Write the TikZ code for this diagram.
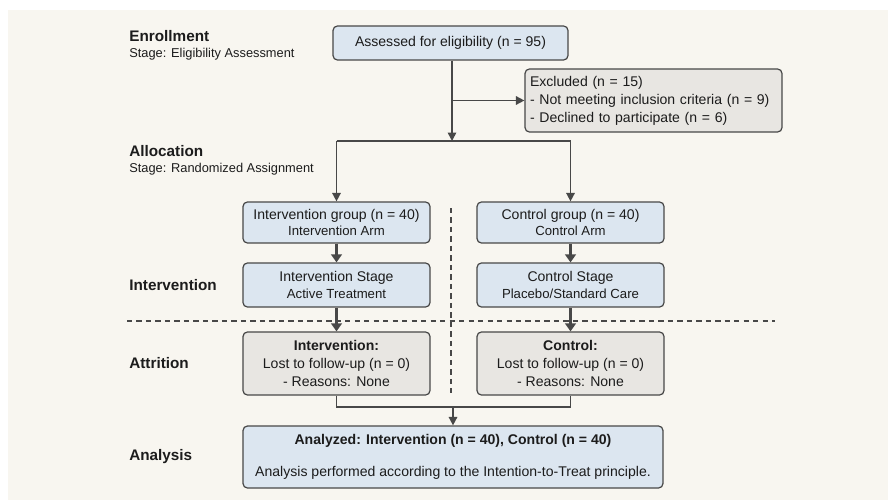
\documentclass[tikz,border=0pt]{standalone}
\usepackage{fontspec}
\setmainfont{Liberation Sans}
\usepackage{xcolor}
\usetikzlibrary{arrows.meta}
\definecolor{bgcream}{RGB}{248,246,240}
\definecolor{boxblue}{RGB}{220,230,240}
\definecolor{boxgray}{RGB}{232,230,226}
\definecolor{edgegray}{RGB}{72,72,72}
\definecolor{inkdark}{RGB}{28,28,28}

\begin{document}
\begin{tikzpicture}[x=0.02cm, y=-0.02cm,
    bluebox/.style={rectangle, rounded corners=2.5pt, draw=edgegray, line width=0.7pt, fill=boxblue, text=inkdark, align=center, inner sep=0pt, font=\fontsize{8}{9.4}\selectfont},
    graybox/.style={bluebox, fill=boxgray},
    phase/.style={anchor=west, align=left, inner sep=0pt, text=inkdark, font=\fontsize{8.7}{10}\selectfont\bfseries},
    flow/.style={draw=edgegray, line width=0.9pt, -{Triangle[length=4.8pt, width=4.8pt]}},
    bigflow/.style={draw=edgegray, line width=1.8pt, -{Triangle[length=4.5pt, width=6pt]}},
    joint/.style={draw=edgegray, line width=0.9pt},
    divider/.style={draw=edgegray, line width=0.6pt, dash pattern=on 3pt off 2.4pt}]

    \fill[white] (0,0) rectangle (888,500);
    \fill[bgcream] (8,10) rectangle (888,500);
    \useasboundingbox (0,0) rectangle (888,500);

    \node (enroll) [phase] at (129,45.5) {Enrollment\\[-1pt]{\mdseries\fontsize{7.3}{9}\selectfont Stage: Eligibility Assessment}};
    \node (alloc) [phase] at (129,160.5) {Allocation\\[-1pt]{\mdseries\fontsize{7.3}{9}\selectfont Stage: Randomized Assignment}};
    \node (treat) [phase] at (129,285) {Intervention};
    \node (attr) [phase] at (129,363) {Attrition};
    \node (analy) [phase] at (129,457) {Analysis};

    \node (assess) [bluebox, minimum width=4.7cm, minimum height=0.68cm] at (450.5,43) {Assessed for eligibility (n = 95)};
    \node (excl) [graybox, minimum width=5.14cm, minimum height=1.26cm, align=left, text width=4.94cm] at (653.5,100.5) {Excluded (n = 15)\\[0.8pt]- Not meeting inclusion criteria (n = 9)\\[0.8pt]- Declined to participate (n = 6)};

    \node (igrp) [bluebox, minimum width=3.74cm, minimum height=0.82cm] at (336.5,222.5) {Intervention group (n = 40)\\{\fontsize{7.5}{9}\selectfont Intervention Arm}};
    \node (cgrp) [bluebox, minimum width=3.74cm, minimum height=0.82cm] at (570.5,222.5) {Control group (n = 40)\\{\fontsize{7.5}{9}\selectfont Control Arm}};
    \node (istg) [bluebox, minimum width=3.74cm, minimum height=0.88cm] at (336.5,285) {Intervention Stage\\{\fontsize{7.5}{9}\selectfont Active Treatment}};
    \node (cstg) [bluebox, minimum width=3.74cm, minimum height=0.88cm] at (570.5,285) {Control Stage\\{\fontsize{7.5}{9}\selectfont Placebo/Standard Care}};

    \node (iatt) [graybox, minimum width=3.74cm, minimum height=1.26cm] at (336.5,363.5) {\textbf{Intervention:}\\[0.6pt]Lost to follow-up (n = 0)\\[0.6pt]- Reasons: None};
    \node (catt) [graybox, minimum width=3.74cm, minimum height=1.26cm] at (570.5,363.5) {\textbf{Control:}\\[0.6pt]Lost to follow-up (n = 0)\\[0.6pt]- Reasons: None};

    \node (anal) [bluebox, minimum width=8.4cm, minimum height=1.24cm] at (453,457) {\textbf{Analyzed: Intervention (n = 40), Control (n = 40)}\\[9pt]Analysis performed according to the Intention-to-Treat principle.};

    \coordinate (split) at (452,141);
    \coordinate (merge) at (453,407);

    \draw [divider] (127,321) -- (775,321);
    \draw [divider] (451,208) -- (451,393);

    \draw [flow] (assess.south -| split) -- (split);
    \draw [flow] (split |- excl.west) -- (excl.west);
    \draw [joint] (split -| igrp.north) -- (split -| cgrp.north);
    \draw [flow] (split -| igrp.north) -- (igrp.north);
    \draw [flow] (split -| cgrp.north) -- (cgrp.north);
    \draw [bigflow] (igrp) -- (istg);
    \draw [bigflow] (cgrp) -- (cstg);
    \draw [bigflow] (istg) -- (iatt);
    \draw [bigflow] (cstg) -- (catt);
    \draw [joint] (iatt.south) |- (merge) -| (catt.south);
    \draw [flow] (merge) -- (anal.north);
\end{tikzpicture}
\end{document}
